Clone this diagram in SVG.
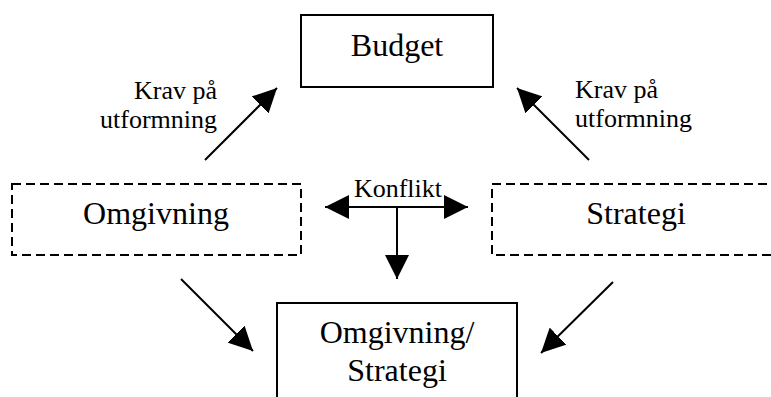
<svg xmlns="http://www.w3.org/2000/svg" width="771" height="397" viewBox="0 0 771 397">
  <style>
    .box { fill: #fff; stroke: #000; stroke-width: 2; }
    .dash { fill: #fff; stroke: #000; stroke-width: 2; stroke-dasharray: 9 5; }
    .big { font-family: "Liberation Serif", "Times New Roman", serif; font-size: 32px; fill: #000; text-anchor: middle; }
    .small { font-family: "Liberation Serif", "Times New Roman", serif; font-size: 26px; fill: #000; }
    .line { stroke: #000; stroke-width: 2; fill: none; }
  </style>
  <defs>
    <marker id="head" viewBox="0 0 10 10" refX="10" refY="5" markerWidth="12" markerHeight="12" markerUnits="strokeWidth" orient="auto">
      <path d="M0,0 L10,5 L0,10 Z" fill="#000"/>
    </marker>
  </defs>
  <rect width="771" height="397" fill="#fff"/>

  <g id="budget">
    <rect class="box" x="301" y="15" width="192" height="72"/>
    <text class="big" x="397" y="56">Budget</text>
  </g>

  <g id="omgivning">
    <rect class="dash" x="12" y="184" width="289" height="71"/>
    <text class="big" x="156" y="224">Omgivning</text>
  </g>

  <g id="strategi">
    <rect class="dash" x="492" y="184" width="300" height="71"/>
    <text class="big" x="636" y="224">Strategi</text>
  </g>

  <g id="omgivning-strategi">
    <rect class="box" x="277" y="303" width="240" height="110"/>
    <text class="big" x="397" y="343">Omgivning/</text>
    <text class="big" x="397" y="381">Strategi</text>
  </g>

  <g id="connectors">
    <line class="line" x1="205" y1="160" x2="277" y2="88" marker-end="url(#head)"/>
    <line class="line" x1="589" y1="160" x2="517" y2="88" marker-end="url(#head)"/>
    <line class="line" x1="181" y1="279" x2="253" y2="351" marker-end="url(#head)"/>
    <line class="line" x1="613" y1="282" x2="541" y2="353" marker-end="url(#head)"/>
    <line class="line" x1="397" y1="207" x2="325" y2="207" marker-end="url(#head)"/>
    <line class="line" x1="397" y1="207" x2="468" y2="207" marker-end="url(#head)"/>
    <line class="line" x1="397" y1="207" x2="397" y2="279" marker-end="url(#head)"/>
    <text class="small" x="217" y="99" text-anchor="end">Krav på</text>
    <text class="small" x="217" y="128" text-anchor="end">utformning</text>
    <text class="small" x="575" y="98">Krav på</text>
    <text class="small" x="575" y="127">utformning</text>
    <text class="small" x="398" y="197" text-anchor="middle">Konflikt</text>
  </g>
</svg>
